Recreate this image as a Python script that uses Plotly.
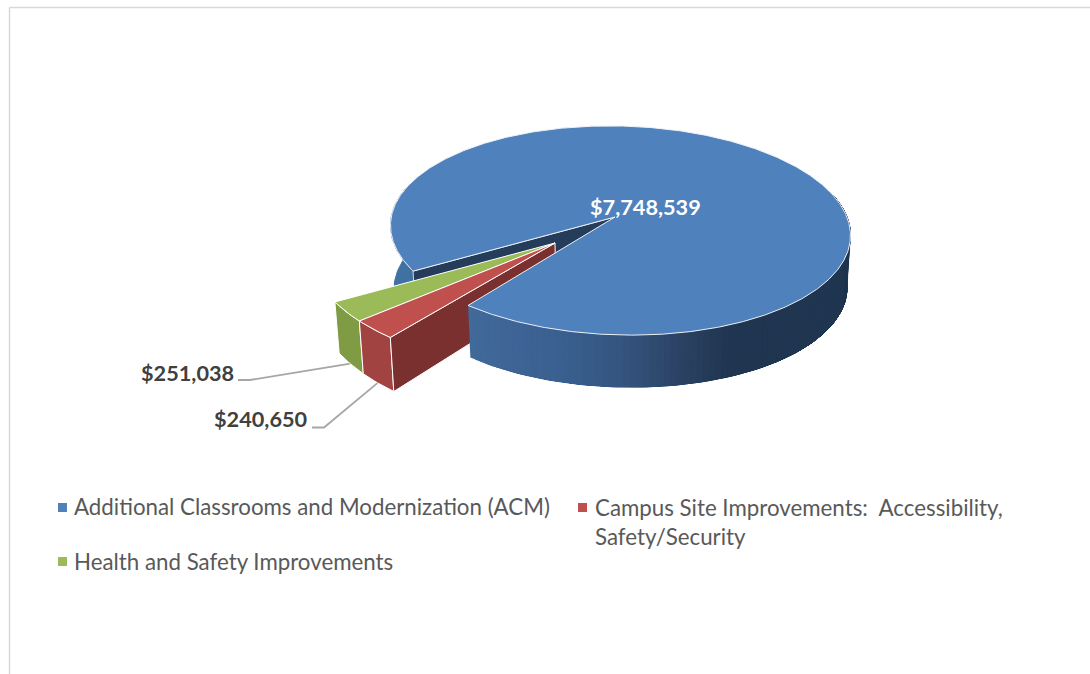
import numpy as np
import plotly.graph_objects as go

categories = ["Additional Classrooms and Modernization (ACM)",
              "Campus Site Improvements:  Accessibility,",
              "Safety/Security",
              "Health and Safety Improvements"]
values = [7748539, 240650, 251038]
value_labels = ["$7,748,539", "$240,650", "$251,038"]
top_colors = ["#4f81bd", "#c0504d", "#9bbb59"]

# projection of the pie disc on the page
CX, CY, A, F, B = 620.5, 230.5, 230.0, 5.0, 104.5
APEX = np.array([615.0, 217.0])
WEDGE_APEX = np.array([555.0, 243.0])
WEDGE_SCALE = 1.09
WEDGE_SQUEEZE = 0.94
START_DEG = 212.7          # where the green slice starts

total = sum(values)
span = [v / total * 360 for v in values]
g0, g1 = START_DEG, START_DEG + span[2]
r0, r1 = g1, g1 + span[1]
b0, b1 = r1, r1 + span[0]

M = np.array([[A, 0.0], [F, -B]])
q = np.linalg.solve(M, APEX - np.array([CX, CY]))
qn = np.linalg.norm(q)
n = q / qn
ch = 1 / np.sqrt(1 - qn ** 2)
sh = qn * ch


def rim(deg):
    t = np.radians(np.atleast_1d(np.asarray(deg, dtype=float)))
    p = np.stack([np.cos(t), np.sin(t)], axis=1)
    par = p @ n
    perp = p - np.outer(par, n)
    w = ch + sh * par
    out = (np.outer(ch * par + sh, n) + perp) / w[:, None]
    return out @ M.T + np.array([CX, CY])


def wedge_rim(deg):
    d = g0 + WEDGE_SQUEEZE * (np.atleast_1d(np.asarray(deg, dtype=float)) - g0)
    return WEDGE_APEX + WEDGE_SCALE * (rim(d) - APEX)


def bottom(p, d0, slope, y0):
    p = np.atleast_2d(p).astype(float)
    return np.stack([CX + 0.985 * (p[:, 0] - CX),
                     p[:, 1] + d0 + slope * (p[:, 1] - y0)], axis=1)


def blue_bot(p):
    return bottom(p, 52, 0.0, 336)


def wedge_bot(p):
    return bottom(p, 54, 0.08, 337)


def arc(a, b, step=1.0):
    return np.linspace(a, b, max(2, int(abs(b - a) / step) + 1))


fig = go.Figure()


def poly(pts, fill, line=None, width=1.0):
    pts = np.asarray(pts)
    fig.add_trace(go.Scatter(
        x=np.append(pts[:, 0], pts[0, 0]), y=np.append(pts[:, 1], pts[0, 1]),
        mode="lines", fill="toself", fillcolor=fill,
        line=dict(color=line or fill, width=width),
        hoverinfo="skip", showlegend=False))


def wall(top, bot, fill, line=None, width=1.0):
    poly(np.vstack([top, bot[::-1]]), fill, line, width)


EDGE = "#eef1f6"

# blue back-left wall
t = rim(arc(165, g0))
wall(t, bottom(t, 64, 0.0, 336), "#4071a3")

# dark cut face of the blue slice
p0 = rim(g0)
poly(np.vstack([APEX, p0, blue_bot(p0), blue_bot(APEX)]), "#253c5a", EDGE, 0.8)

# leader lines
g_mid = wedge_bot(wedge_rim((g0 + g1) / 2))[0]
r_mid = wedge_bot(wedge_rim((r0 + r1) / 2))[0]
for (sx, sy, kx), end in (((238, 380, 250), g_mid), ((312, 427.5, 324), r_mid)):
    fig.add_trace(go.Scatter(x=[sx, kx, end[0]], y=[sy, sy, end[1]], mode="lines",
                             line=dict(color="#a6a6a6", width=1.8),
                             hoverinfo="skip", showlegend=False))

# green wall and red walls
t = wedge_rim(arc(g0, g1))
wall(t, wedge_bot(t), "#7f9c45", "#ffffff", 1)
t = wedge_rim(arc(r0, r1))
wall(t, wedge_bot(t), "#a04341", "#ffffff", 1)
pe = wedge_rim(r1)
poly(np.vstack([WEDGE_APEX, pe, wedge_bot(pe), wedge_bot(WEDGE_APEX)]), "#7a302e", "#ffffff", 1)

# green and red tops
poly(np.vstack([WEDGE_APEX, wedge_rim(arc(g0, g1))]), top_colors[2], "#ffffff", 1)
poly(np.vstack([WEDGE_APEX, wedge_rim(arc(r0, r1))]), top_colors[1], "#ffffff", 1)

# blue front wall: nested polygons painted left to right give a seamless shade
stops_x = [470, 560, 620, 680, 730, 860]
stops_rgb = np.array([[0x41, 0x69, 0x9a], [0x3a, 0x60, 0x90], [0x34, 0x55, 0x7f],
                      [0x2b, 0x42, 0x63], [0x1f, 0x35, 0x50], [0x1f, 0x35, 0x50]])
END = 375
for a0 in arc(b0, END - 2, 1.5):
    seg = rim(arc(a0, END))
    xm = seg[0, 0]
    rgb = [int(np.interp(xm, stops_x, stops_rgb[:, i])) for i in range(3)]
    wall(seg, blue_bot(seg), "rgb(%d,%d,%d)" % tuple(rgb), None, 0.1)

# blue top
poly(np.vstack([APEX, rim(arc(b0, b1, 0.5))]), top_colors[0], EDGE, 1)

# legend keys
legend_x = [62.5, 582.5, 62.5]
legend_y = [507.5, 507.5, 561.5]
for i in range(3):
    fig.add_trace(go.Scatter(x=[legend_x[i]], y=[legend_y[i]], mode="markers",
                             marker=dict(symbol="square", size=9, color=top_colors[i]),
                             hoverinfo="skip", showlegend=False))

FONT = "Lato, Carlito, Calibri, sans-serif"
ann = []
text_x = [72, 593, 593, 72]
text_y = [506.5, 507, 536.5, 561]
for x, y, s in zip(text_x, text_y, categories):
    ann.append(dict(x=x, y=y, text=s, xanchor="left", yanchor="middle",
                    align="left", showarrow=False, font=dict(family=FONT, size=22.3, color="#595959")))
label_pos = [(645.5, 207, "#ffffff"), (261, 419, "#404040"), (187.5, 373, "#404040")]
for (x, y, c), s in zip(label_pos, value_labels):
    ann.append(dict(x=x, y=y, text="<b>%s</b>" % s, xanchor="center", yanchor="middle",
                    showarrow=False, font=dict(family=FONT, size=21.7, color=c)))

frame = [dict(type="line", x0=9.5, x1=1090, y0=7.5, y1=7.5, line=dict(color="#d9d9d9", width=1.5)),
         dict(type="line", x0=9.5, x1=9.5, y0=7.5, y1=674, line=dict(color="#d9d9d9", width=1.5))]

fig.update_layout(width=1090, height=674, margin=dict(l=0, r=0, t=0, b=0),
                  paper_bgcolor="white", plot_bgcolor="white",
                  xaxis=dict(range=[0, 1090], visible=False, fixedrange=True),
                  yaxis=dict(range=[674, 0], visible=False, fixedrange=True),
                  annotations=ann, shapes=frame, showlegend=False)
fig.write_html("out.html", config=dict(displayModeBar=False),
               post_script="document.body.style.margin='0';document.body.style.overflow='hidden';")
